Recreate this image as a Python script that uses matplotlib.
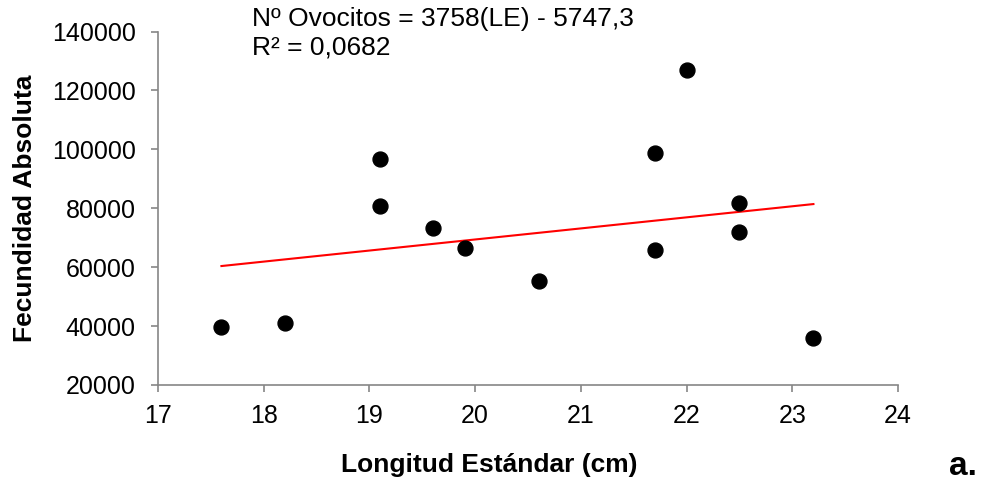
import matplotlib.pyplot as plt
import numpy as np

# datos
longitud = [17.6, 18.2, 19.1, 19.1, 19.6, 19.9, 20.6, 21.7, 21.7, 22.0, 22.5, 22.5, 23.2]
fecundidad = [39600, 41000, 96600, 80900, 73400, 66600, 55400, 98900, 65700, 126900, 81700, 71900, 36100]
pendiente = 3758
intercepto = -5747.3

plt.rcParams['font.family'] = ['Liberation Sans', 'DejaVu Sans']

W, H = 983, 483
fig = plt.figure(figsize=(W / 100, H / 100), dpi=100)
ax = fig.add_axes([158 / W, 1 - 385 / H, 740 / W, 353.4 / H])

ax.scatter(longitud, fecundidad, s=115, color='black', zorder=3)

x_lin = np.array([min(longitud), max(longitud)])
ax.plot(x_lin, pendiente * x_lin + intercepto, color='red', linewidth=1.5, zorder=2)

ax.set_xlim(17, 24)
ax.set_ylim(20000, 140000)
ax.set_xticks(range(17, 25))
ax.set_yticks(range(20000, 140001, 20000))

for s in ['top', 'right']:
    ax.spines[s].set_visible(False)
for s in ['left', 'bottom']:
    ax.spines[s].set_color('#868686')
    ax.spines[s].set_linewidth(1.2)
ax.tick_params(axis='both', colors='#868686', labelcolor='black', labelsize=18, length=5, width=1.2)
ax.tick_params(axis='x', pad=9)
ax.tick_params(axis='y', pad=11)

ax.set_xlabel("Longitud Estándar (cm)", fontsize=19, fontweight='bold', va='center')
ax.set_ylabel("Fecundidad Absoluta", fontsize=19, fontweight='bold', va='center')
ax.xaxis.set_label_coords((489 - 158) / 740, (385 - 465) / 353.4)
ax.yaxis.set_label_coords((25 - 158) / 740, 0.5)

fig.text(252 / W, 1 - 26 / H, "Nº Ovocitos = 3758(LE) - 5747,3",
         fontsize=19, va='baseline', ha='left')
fig.text(252 / W, 1 - 55 / H, "R² = 0,0682",
         fontsize=19, va='baseline', ha='left')
fig.text(963 / W, 1 - 475 / H, "a.", fontsize=24, fontweight='bold', ha='center', va='baseline')

plt.savefig("out.png", dpi=100)
